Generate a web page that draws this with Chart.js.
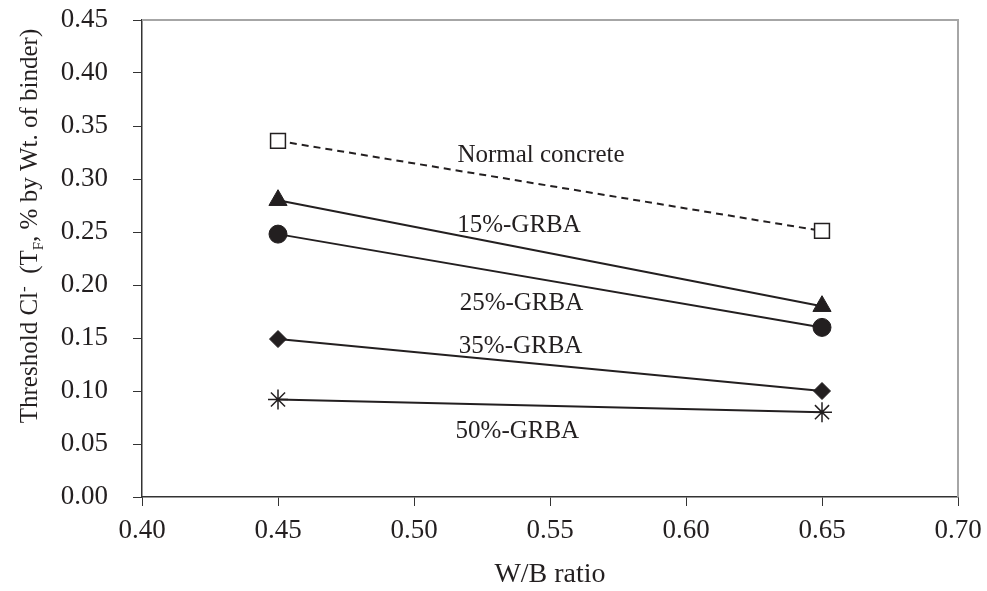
<!DOCTYPE html>
<html>
<head>
<meta charset="utf-8">
<script src="https://cdn.jsdelivr.net/npm/chart.js@4.4.1/dist/chart.umd.min.js"></script>
<style>
html,body{margin:0;padding:0;background:#fff;}
#wrap{width:987px;height:591px;position:relative;}
</style>
</head>
<body>
<div id="wrap"><canvas id="c" width="987" height="591"></canvas></div>
<script>
const wbRatio = [0.45, 0.65];
const normalConcrete = [0.336, 0.251];
const grba15 = [0.280, 0.180];
const grba25 = [0.248, 0.160];
const grba35 = [0.149, 0.100];
const grba50 = [0.092, 0.080];
const seriesNames = ['Normal concrete', '15%-GRBA', '25%-GRBA', '35%-GRBA', '50%-GRBA'];
const labelX = [0.5467, 0.5386, 0.5395, 0.5392, 0.5380];
const labelY = [0.3226, 0.2566, 0.1830, 0.1425, 0.0623];
const xTicks = [0.40, 0.45, 0.50, 0.55, 0.60, 0.65, 0.70];
const yTicks = [0.00, 0.05, 0.10, 0.15, 0.20, 0.25, 0.30, 0.35, 0.40, 0.45];

const FONT = '"Liberation Serif", "Times New Roman", serif';
const TXT = '#231f20';

function pts(vals){ return wbRatio.map((x,i)=>({x:x, y:vals[i]})); }

const base = {borderColor:'#231f20', borderWidth:2, pointBorderColor:'#231f20', pointBackgroundColor:'#231f20', showLine:true, tension:0};

const datasets = [
  Object.assign({}, base, {label:seriesNames[0], data:pts(normalConcrete), borderDash:[7,5], pointStyle:'rect', pointRadius:10.5, pointBackgroundColor:'#fff', pointBorderWidth:1.5}),
  Object.assign({}, base, {label:seriesNames[1], data:pts(grba15), pointStyle:'triangle', pointRadius:10.5, pointBorderWidth:1}),
  Object.assign({}, base, {label:seriesNames[2], data:pts(grba25), pointStyle:'circle', pointRadius:9, pointBorderWidth:1}),
  Object.assign({}, base, {label:seriesNames[3], data:pts(grba35), pointStyle:'rectRot', pointRadius:8.5, pointBorderWidth:1}),
  Object.assign({}, base, {label:seriesNames[4], data:pts(grba50), pointStyle:'star', pointRadius:10, pointBorderWidth:1.5})
];

const framePlugin = {
  id:'frame',
  beforeDatasetsDraw(chart){
    const a = chart.chartArea, ctx = chart.ctx;
    ctx.save();
    ctx.strokeStyle = '#a6a6a6';
    ctx.lineWidth = 2;
    ctx.beginPath();
    ctx.moveTo(a.left, a.top);
    ctx.lineTo(a.right, a.top);
    ctx.lineTo(a.right, a.bottom);
    ctx.stroke();
    ctx.restore();
  }
};

const labelPlugin = {
  id:'seriesLabels',
  afterDatasetsDraw(chart){
    const ctx = chart.ctx, xs = chart.scales.x, ys = chart.scales.y;
    ctx.save();
    ctx.font = '25px ' + FONT;
    ctx.fillStyle = TXT;
    ctx.textAlign = 'center';
    ctx.textBaseline = 'middle';
    seriesNames.forEach((n,i)=>{
      ctx.fillText(n, xs.getPixelForValue(labelX[i]), ys.getPixelForValue(labelY[i]));
    });
    ctx.restore();
  }
};

const yTitlePlugin = {
  id:'yTitle',
  afterDraw(chart){
    const ctx = chart.ctx;
    const parts = [
      {t:'Threshold Cl', s:25, dy:0},
      {t:'-', s:17, dy:-8},
      {t:'  (T', s:25, dy:0},
      {t:'F', s:15, dy:6},
      {t:', % by Wt. of binder)', s:25, dy:0}
    ];
    ctx.save();
    let total = 0;
    parts.forEach(p=>{ ctx.font = p.s+'px '+FONT; p.w = ctx.measureText(p.t).width; total += p.w; });
    ctx.translate(29, 226);
    ctx.rotate(-Math.PI/2);
    ctx.fillStyle = TXT;
    ctx.textBaseline = 'alphabetic';
    ctx.textAlign = 'left';
    let x = -total/2;
    parts.forEach(p=>{
      ctx.font = p.s+'px '+FONT;
      ctx.fillText(p.t, x, 8 + p.dy);
      x += p.w;
    });
    ctx.restore();
  }
};

new Chart(document.getElementById('c'), {
  type:'scatter',
  data:{datasets},
  plugins:[framePlugin, labelPlugin, yTitlePlugin],
  options:{
    responsive:false,
    animation:false,
    layout:{padding:{left:0, right:29, top:20, bottom:0}},
    plugins:{legend:{display:false}, tooltip:{enabled:false}},
    scales:{
      x:{
        type:'linear', min:0.40, max:0.70,
        afterBuildTicks(s){ s.ticks = xTicks.map(v=>({value:v})); },
        afterFit(s){ s.height = 94; s.paddingLeft = 0; s.paddingRight = 0; },
        ticks:{color:TXT, font:{family:FONT, size:27}, padding:9, callback:v=>v.toFixed(2), maxRotation:0, autoSkip:false},
        grid:{display:true, drawOnChartArea:false, drawTicks:true, tickLength:9, color:'#333', lineWidth:1},
        border:{display:true, color:'#333', width:1.5},
        title:{display:true, text:'W/B ratio', color:TXT, font:{family:FONT, size:28}, padding:{top:0, bottom:0}}
      },
      y:{
        type:'linear', min:0, max:0.45,
        afterBuildTicks(s){ s.ticks = yTicks.map(v=>({value:v})); },
        afterFit(s){ s.width = 142; s.paddingTop = 0; s.paddingBottom = 0; },
        ticks:{color:TXT, font:{family:FONT, size:27}, padding:25, callback:v=>v.toFixed(2), autoSkip:false},
        grid:{display:true, drawOnChartArea:false, drawTicks:true, tickLength:9, color:'#333', lineWidth:1},
        border:{display:true, color:'#333', width:1.5}
      }
    }
  }
});
</script>
</body>
</html>
